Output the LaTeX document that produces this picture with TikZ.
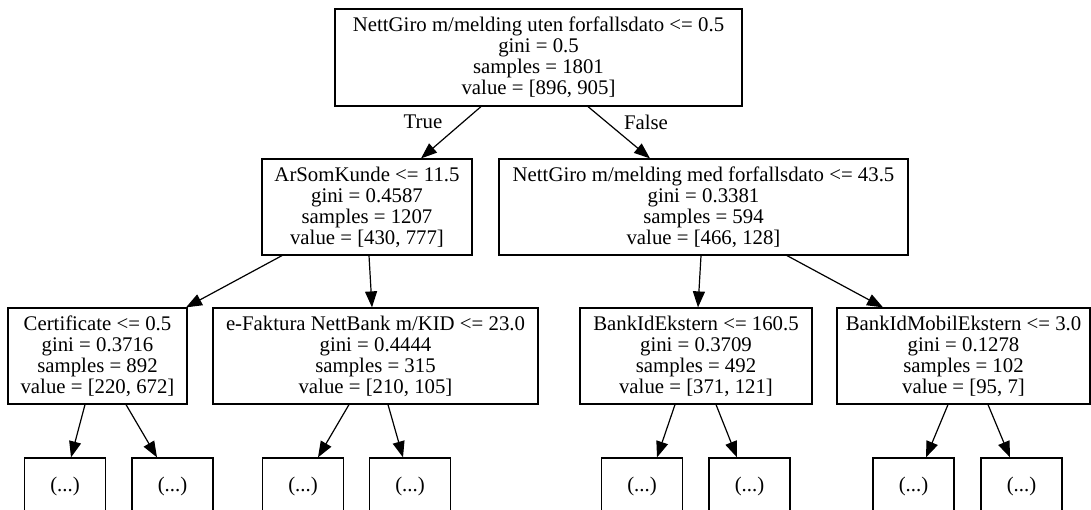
\documentclass[tikz,border=0pt]{standalone}
\usepackage{fontspec}
\setmainfont{Liberation Serif}
\usetikzlibrary{arrows.meta}

\begin{document}
\begin{tikzpicture}[x=1pt, y=-1pt,
  treebox/.style={draw, line width=1.2pt, rectangle, inner sep=0pt, align=center,
    minimum height=96pt, font=\fontsize{20.8}{21}\selectfont},
  leafbox/.style={draw, line width=1.2pt, rectangle, inner sep=0pt,
    minimum width=81pt, minimum height=56pt, font=\fontsize{20.8}{21}\selectfont},
  edgelabel/.style={inner sep=0pt, font=\fontsize{20.8}{21}\selectfont},
  link/.style={line width=1.2pt, -{Triangle[length=16pt,width=12pt]}}]

\useasboundingbox (0,0) rectangle (1091,510);
\clip (0,0) rectangle (1091,510);

% split nodes
\node[treebox, minimum width=407pt, minimum height=97pt] (root) at (538.5,57.5)
  {NettGiro m/melding uten forfallsdato <= 0.5\\gini = 0.5\\samples = 1801\\value = [896, 905]};
\node[treebox, minimum width=210pt] (arsom) at (367,207)
  {ArSomKunde <= 11.5\\gini = 0.4587\\samples = 1207\\value = [430, 777]};
\node[treebox, minimum width=409pt] (nettmed) at (703.5,207)
  {NettGiro m/melding med forfallsdato <= 43.5\\gini = 0.3381\\samples = 594\\value = [466, 128]};
\node[treebox, minimum width=179pt] (cert) at (97.5,356)
  {Certificate <= 0.5\\gini = 0.3716\\samples = 892\\value = [220, 672]};
\node[treebox, minimum width=325pt] (efak) at (375.5,356)
  {e-Faktura NettBank m/KID <= 23.0\\gini = 0.4444\\samples = 315\\value = [210, 105]};
\node[treebox, minimum width=232pt] (bankid) at (696,356)
  {BankIdEkstern <= 160.5\\gini = 0.3709\\samples = 492\\value = [371, 121]};
\node[treebox, minimum width=253pt] (mobil) at (963.5,356)
  {BankIdMobilEkstern <= 3.0\\gini = 0.1278\\samples = 102\\value = [95, 7]};

% truncated subtrees
\node[leafbox] (l1) at (65,486) {(...)};
\node[leafbox] (l2) at (172.5,486) {(...)};
\node[leafbox] (l3) at (303,486) {(...)};
\node[leafbox] (l4) at (410,486) {(...)};
\node[leafbox] (l5) at (642,486) {(...)};
\node[leafbox] (l6) at (749.5,486) {(...)};
\node[leafbox] (l7) at (913.5,486) {(...)};
\node[leafbox] (l8) at (1021.5,486) {(...)};

% branch labels
\node[edgelabel] (truelbl) at (423,122) {True};
\node[edgelabel] (falselbl) at (646,122) {False};

% connectors
\draw[link] ([xshift=-57.5pt]root.south) -- ([xshift=54pt]arsom.north);
\draw[link] ([xshift=49.5pt]root.south) -- ([xshift=-53.5pt]nettmed.north);
\draw[link] ([xshift=-85pt]arsom.south) -- ([xshift=88.5pt]cert.north);
\draw[link] ([xshift=2pt]arsom.south) -- ([xshift=-3.5pt]efak.north);
\draw[link] ([xshift=-2.5pt]nettmed.south) -- ([xshift=2pt]bankid.north);
\draw[link] ([xshift=83.5pt]nettmed.south) -- ([xshift=-80.5pt]mobil.north);
\draw[link] ([xshift=-12.5pt]cert.south) -- ([xshift=6pt]l1.north);
\draw[link] ([xshift=28.5pt]cert.south) -- ([xshift=-15.5pt]l2.north);
\draw[link] ([xshift=-26.5pt]efak.south) -- ([xshift=15pt]l3.north);
\draw[link] ([xshift=12.5pt]efak.south) -- ([xshift=-7pt]l4.north);
\draw[link] ([xshift=-21pt]bankid.south) -- ([xshift=15pt]l5.north);
\draw[link] ([xshift=20pt]bankid.south) -- ([xshift=-12.5pt]l6.north);
\draw[link] ([xshift=-15.5pt]mobil.south) -- ([xshift=12.5pt]l7.north);
\draw[link] ([xshift=24.5pt]mobil.south) -- ([xshift=-11.5pt]l8.north);

\end{tikzpicture}
\end{document}
